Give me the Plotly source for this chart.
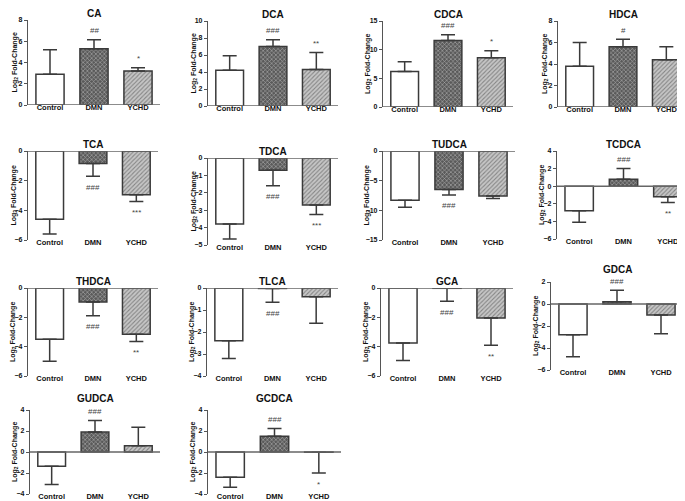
import plotly.graph_objects as go

# ---------------- data ----------------
groups = ["Control", "DMN", "YCHD"]

panel_names = ["CA", "DCA", "CDCA", "HDCA",
               "TCA", "TDCA", "TUDCA", "TCDCA",
               "THDCA", "TLCA", "GCA", "GDCA",
               "GUDCA", "GCDCA"]

means = {
    "CA":    [2.9, 5.3, 3.2],
    "DCA":   [4.2, 7.0, 4.3],
    "CDCA":  [6.2, 11.6, 8.6],
    "HDCA":  [3.8, 5.6, 4.4],
    "TCA":   [-4.6, -0.85, -2.95],
    "TDCA":  [-3.8, -0.7, -2.7],
    "TUDCA": [-8.3, -6.5, -7.6],
    "TCDCA": [-2.8, 0.8, -1.2],
    "THDCA": [-3.5, -0.95, -3.15],
    "TLCA":  [-2.4, -0.02, -0.4],
    "GCA":   [-3.75, -0.02, -2.05],
    "GDCA":  [-2.8, 0.2, -1.0],
    "GUDCA": [-1.35, 1.9, 0.6],
    "GCDCA": [-2.4, 1.5, -0.02],
}

errors = {
    "CA":    [2.3, 0.85, 0.3],
    "DCA":   [1.7, 0.8, 2.0],
    "CDCA":  [1.7, 1.0, 1.2],
    "HDCA":  [2.2, 0.7, 1.2],
    "TCA":   [1.0, 0.85, 0.45],
    "TDCA":  [0.85, 0.9, 0.55],
    "TUDCA": [1.2, 0.9, 0.4],
    "TCDCA": [1.3, 1.2, 0.65],
    "THDCA": [1.5, 0.95, 0.5],
    "TLCA":  [0.8, 0.63, 1.2],
    "GCA":   [1.2, 0.88, 1.85],
    "GDCA":  [2.0, 1.05, 1.7],
    "GUDCA": [1.75, 1.1, 1.75],
    "GCDCA": [0.95, 0.75, 1.98],
}

y_ranges = {
    "CA": [0, 8], "DCA": [0, 10], "CDCA": [0, 15], "HDCA": [0, 8],
    "TCA": [-6, 0], "TDCA": [-5, 0], "TUDCA": [-15, 0], "TCDCA": [-6, 4],
    "THDCA": [-6, 0], "TLCA": [-4, 0], "GCA": [-6, 0], "GDCA": [-6, 2],
    "GUDCA": [-4, 4], "GCDCA": [-4, 4],
}

y_dticks = {
    "CA": 2, "DCA": 2, "CDCA": 5, "HDCA": 2,
    "TCA": 2, "TDCA": 1, "TUDCA": 5, "TCDCA": 2,
    "THDCA": 2, "TLCA": 1, "GCA": 2, "GDCA": 2,
    "GUDCA": 2, "GCDCA": 2,
}

sig_labels = {
    "CA":    ["", "##", "*"],
    "DCA":   ["", "###", "**"],
    "CDCA":  ["", "###", "*"],
    "HDCA":  ["", "#", ""],
    "TCA":   ["", "###", "***"],
    "TDCA":  ["", "###", "***"],
    "TUDCA": ["", "###", ""],
    "TCDCA": ["", "###", "**"],
    "THDCA": ["", "###", "**"],
    "TLCA":  ["", "###", ""],
    "GCA":   ["", "###", "**"],
    "GDCA":  ["", "###", ""],
    "GUDCA": ["", "###", ""],
    "GCDCA": ["", "###", "*"],
}

# ---------------- layout (pixel boxes: x0, x1, ytop, ybottom) ----------------
W, H = 685, 501
boxes = {
    "CA": (20, 152, 12, 97), "DCA": (200, 330, 13, 98),
    "CDCA": (375, 505, 13, 99), "HDCA": (550, 680, 13, 99),
    "TCA": (20, 150, 143, 232), "TDCA": (200, 330, 150, 237),
    "TUDCA": (375, 507, 143, 232), "TCDCA": (549, 682, 143, 231),
    "THDCA": (20, 150, 280, 368), "TLCA": (199, 330, 280, 368),
    "GCA": (373, 505, 280, 368), "GDCA": (543, 675, 274, 362),
    "GUDCA": (22, 152, 402, 486), "GCDCA": (200, 333, 402, 486),
}
title_shift = {"GDCA": 6, "GUDCA": 5, "GCDCA": 5}

FONT = "Arial, Liberation Sans, sans-serif"
EDGE = "#3a3a3a"

fig = go.Figure()
annotations = []
shapes = []
layout_axes = {}

for i, name in enumerate(panel_names):
    k = "" if i == 0 else str(i + 1)
    xa, ya = "x" + k, "y" + k
    m = means[name]
    e = errors[name]
    plus = [ei if mi >= 0 else 0 for mi, ei in zip(m, e)]
    minus = [ei if mi < 0 else 0 for mi, ei in zip(m, e)]
    fig.add_trace(go.Bar(
        x=groups, y=m, xaxis=xa, yaxis=ya,
        marker=dict(
            color=["white", "#5a5a5a", "#c6c6c6"],
            line=dict(color=EDGE, width=1.5),
            pattern=dict(shape=["", "x", "/"],
                         bgcolor=["white", "#5a5a5a", "#c6c6c6"],
                         fgcolor=["white", "#959595", "#858585"],
                         size=3, solidity=0.35),
        ),
        error_y=dict(type="data", symmetric=False, array=plus, arrayminus=minus,
                     color=EDGE, thickness=1.5, width=7),
        showlegend=False, hoverinfo="skip",
    ))
    x0, x1, yt, yb = boxes[name]
    dx = [x0 / W, x1 / W]
    dy = [1 - yb / H, 1 - yt / H]
    r = y_ranges[name]
    layout_axes["xaxis" + k] = dict(
        domain=dx, anchor=ya, range=[-0.5, 2.5], showline=False, ticks="",
        ticklen=0, ticklabelstandoff=-4,
        showgrid=False, zeroline=False, automargin=False,
        tickfont=dict(family=FONT, size=7.5, color="#111", weight="bold"),
    )
    layout_axes["yaxis" + k] = dict(
        domain=dy, anchor=xa, range=r, dtick=y_dticks[name], tick0=0,
        showline=True, linecolor="#555", linewidth=1.2,
        ticks="outside", ticklen=3, tickwidth=1.2, tickcolor="#555",
        showgrid=False, zeroline=False, automargin=False,
        tickfont=dict(family=FONT, size=7, color="#111", weight="bold"),
    )
    # zero line across the panel
    shapes.append(dict(type="line", xref=xa + " domain", yref=ya,
                       x0=0, x1=1, y0=0, y1=0,
                       line=dict(color="#666", width=1.5)))
    # panel title
    annotations.append(dict(text="<b>" + name + "</b>", xref="paper", yref="paper",
                            x=(dx[0] + dx[1]) / 2, y=dy[1], yanchor="bottom",
                            xanchor="center", yshift=title_shift.get(name, 0),
                            showarrow=False, borderpad=0,
                            font=dict(family=FONT, size=10, color="#111")))
    # y-axis title
    maxlen = max(len(str(r[0])), len(str(r[1])))
    annotations.append(dict(text="<b>Log<sub>2</sub> Fold-Change</b>",
                            xref="paper", yref="paper",
                            x=dx[0], y=(dy[0] + dy[1]) / 2, textangle=-90,
                            xanchor="center", yanchor="middle",
                            xshift=-(13 + 2 * (maxlen - 1)), showarrow=False,
                            borderpad=0,
                            font=dict(family=FONT, size=7, color="#111")))
    # significance marks
    for g, mi, ei, lab in zip(groups, m, e, sig_labels[name]):
        if not lab:
            continue
        end = mi + ei if mi >= 0 else mi - ei
        annotations.append(dict(text=lab, xref=xa, yref=ya, x=g, y=end,
                                yshift=9 if mi >= 0 else -11,
                                xanchor="center", yanchor="middle",
                                showarrow=False, borderpad=0,
                                font=dict(family=FONT, size=8, color="#444")))

fig.update_layout(
    width=W, height=H,
    margin=dict(l=0, r=0, t=0, b=0),
    paper_bgcolor="white", plot_bgcolor="white",
    bargap=0.36,
    annotations=annotations, shapes=shapes,
    **layout_axes,
)

fig.write_html("out.html")
